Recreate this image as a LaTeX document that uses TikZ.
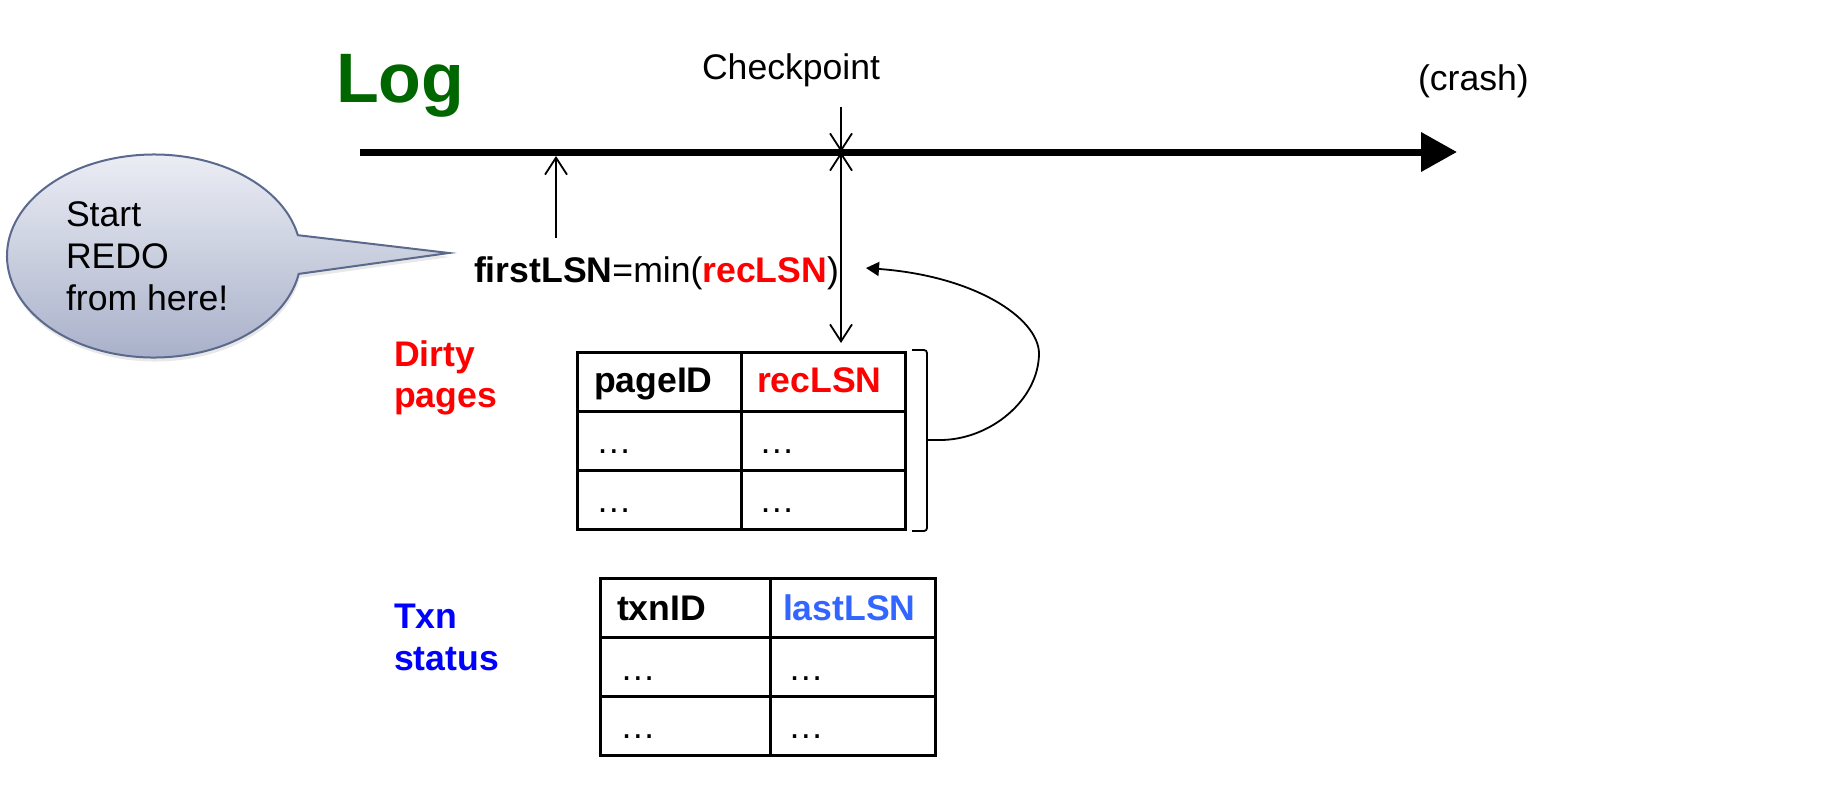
\documentclass[tikz,border=0pt]{standalone}
\usepackage{fontspec}
\setmainfont{Liberation Sans}
\usetikzlibrary{arrows.meta,shapes.callouts,shadows,calc}
\definecolor{loggreen}{RGB}{0,102,0}
\definecolor{lsnblue}{RGB}{51,102,255}
\definecolor{bubbleedge}{RGB}{90,105,140}
\definecolor{bubbletop}{RGB}{238,240,246}
\definecolor{bubblebot}{RGB}{166,174,200}
\tikzset{
  barb/.tip={Straight Barb[length=17pt,width=22pt]},
  headtip/.tip={Triangle[length=13pt,width=14pt]},
}
\begin{document}
\begin{tikzpicture}[x=1pt,y=-1pt,
  every node/.style={inner sep=0pt, outer sep=0pt, font=\fontsize{35.6}{42}\selectfont},
  txt/.style={anchor=base west},
  boldtxt/.style={anchor=base west, font=\fontsize{35.6}{42}\selectfont\bfseries},
  thinline/.style={line width=1.8pt},
  tbl/.style={draw, line width=3pt, minimum height=177pt},
  tblline/.style={line width=3pt},
]
\useasboundingbox (0,0) rectangle (1838,809);

% log axis
\coordinate (axS) at (360,152);
\coordinate (axE) at (1457,152);
\draw[line width=7pt, -{Triangle[length=36pt,width=38pt]}] (axS) -- (axE);

\node[anchor=base west, font=\fontsize{70}{84}\selectfont\bfseries, text=loggreen] (log) at (336,102) {Log};
\node[txt] (cp) at (702,79) {Checkpoint};
\node[txt] (crash) at (1418,90) {(crash)};

% firstLSN
\node[txt] (fl) at (474,282) {\textbf{firstLSN}=min(\textcolor{red}{\textbf{recLSN}})};

% speech bubble
\node[ellipse callout, draw=bubbleedge, line width=2pt,
      top color=bubbletop, bottom color=bubblebot,
      minimum width=294pt, minimum height=203pt,
      callout absolute pointer={(449,253)}, callout pointer arc=22,
      drop shadow={shadow xshift=1pt, shadow yshift=-4pt, opacity=0.18}] (bub) at (154,256) {};
\node[anchor=west, align=left] (bubtxt) at (66,256) {Start\\REDO\\from here!};

% Dirty pages table
\node[boldtxt, text=red] (dirty1) at (394,366) {Dirty};
\node[boldtxt, text=red] (dirty2) at (394,407) {pages};
\node[tbl, minimum width=328pt] (dp) at (741,440.5) {};
\draw[tblline] ($(dp.north west)!1/3!(dp.south west)$) -- ($(dp.north east)!1/3!(dp.south east)$);
\draw[tblline] ($(dp.north west)!2/3!(dp.south west)$) -- ($(dp.north east)!2/3!(dp.south east)$);
\draw[tblline] (dp.north) -- (dp.south);
\node[boldtxt] (pid) at (594,392) {pageID};
\node[boldtxt, text=red] (rec) at (757,392) {recLSN};
\node[txt] (d11) at (596,453) {…};
\node[txt] (d12) at (759,453) {…};
\node[txt] (d21) at (596,512) {…};
\node[txt] (d22) at (759,512) {…};

% Txn status table
\node[boldtxt, text=blue] (txn1) at (394,628) {Txn};
\node[boldtxt, text=blue] (txn2) at (394,670) {status};
\node[tbl, minimum width=335pt] (ts) at (767.5,666.5) {};
\draw[tblline] ($(ts.north west)!1/3!(ts.south west)$) -- ($(ts.north east)!1/3!(ts.south east)$);
\draw[tblline] ($(ts.north west)!2/3!(ts.south west)$) -- ($(ts.north east)!2/3!(ts.south east)$);
\draw[tblline] ($(ts.north west)+(170,0)$) -- ($(ts.south west)+(170,0)$);
\node[boldtxt] (tid) at (617,620) {txnID};
\node[boldtxt, text=lsnblue] (last) at (783,620) {lastLSN};
\node[txt] (e11) at (620,680) {…};
\node[txt] (e12) at (788,680) {…};
\node[txt] (e21) at (620,738) {…};
\node[txt] (e22) at (788,738) {…};

% checkpoint arrows
\coordinate (cpTop) at (841,107);
\coordinate (cpAx) at (841,152);
\coordinate (cpTab) at ($(dp.north)+(100,-9)$);
\draw[thinline, -barb] (cpTop) -- (cpAx);
\draw[thinline, barb-barb] (cpAx) -- (cpTab);

% firstLSN arrow to log
\coordinate (flTop) at (556,238);
\coordinate (flAx) at (556,156);
\draw[thinline, -barb] (flTop) -- (flAx);

% bracket and curved arrow
\coordinate (brk) at (927,440);
\coordinate (flIn) at (866,268);
\draw[thinline, rounded corners=3pt] (912,350) -- (927,350) -- (927,531) -- (912,531);
\draw[thinline, -headtip] (brk) -- ++(13,0) .. controls (990,440) and (1039,400) .. (1039,353)
  .. controls (1038,318) and (975,276) .. (flIn);
\end{tikzpicture}
\end{document}
